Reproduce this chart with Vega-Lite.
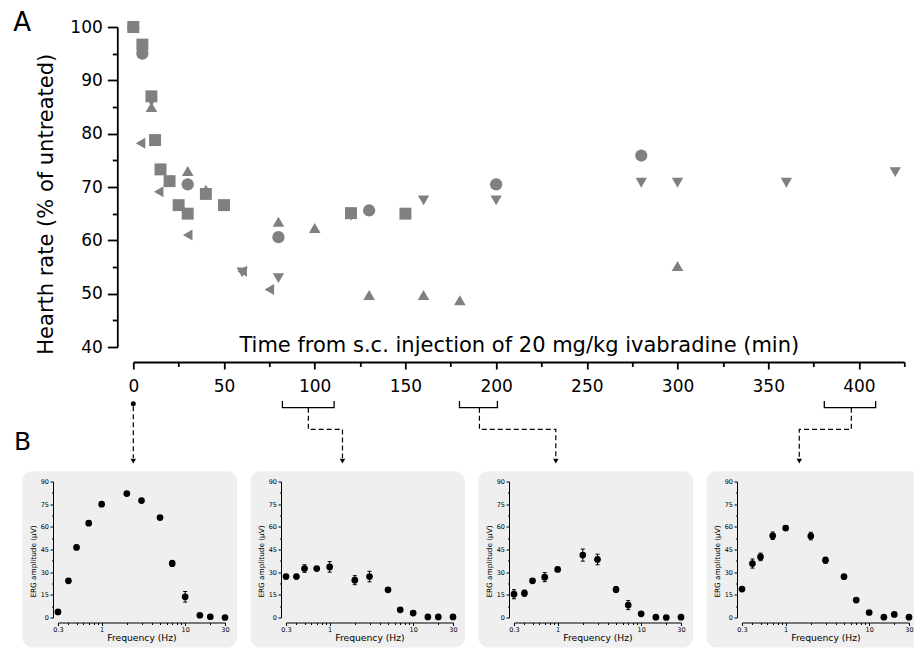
{
 "$schema": "https://vega.github.io/schema/vega-lite/v6.json",
 "padding": {"left": 13, "top": 9, "right": 0, "bottom": 0},
 "background": "white",
 "config": {
  "font": "DejaVu Sans",
  "view": {"stroke": null},
  "axis": {"labelFont": "DejaVu Sans", "titleFont": "DejaVu Sans", "labelColor": "black", "titleColor": "black", "domainColor": "black", "tickColor": "black", "grid": false, "labelFlush": false, "labelOverlap": false}
 },
 "datasets": {
  "hr": [
   {"s": "square", "t": 0, "hr": 100}, {"s": "square", "t": 5, "hr": 96.7}, {"s": "square", "t": 10, "hr": 87}, {"s": "square", "t": 12, "hr": 78.8}, {"s": "square", "t": 15, "hr": 73.3}, {"s": "square", "t": 20, "hr": 71.1}, {"s": "square", "t": 25, "hr": 66.6}, {"s": "square", "t": 30, "hr": 65.0}, {"s": "square", "t": 40, "hr": 68.7}, {"s": "square", "t": 50, "hr": 66.6}, {"s": "square", "t": 120, "hr": 65.1}, {"s": "square", "t": 150, "hr": 65.0},
   {"s": "circle", "t": 0, "hr": 100}, {"s": "circle", "t": 5, "hr": 95}, {"s": "circle", "t": 30, "hr": 70.5}, {"s": "circle", "t": 80, "hr": 60.6}, {"s": "circle", "t": 130, "hr": 65.6}, {"s": "circle", "t": 200, "hr": 70.5}, {"s": "circle", "t": 280, "hr": 75.9},
   {"s": "up", "t": 0, "hr": 100}, {"s": "up", "t": 10, "hr": 85}, {"s": "up", "t": 30, "hr": 73}, {"s": "up", "t": 40, "hr": 69.5}, {"s": "up", "t": 80, "hr": 63.5}, {"s": "up", "t": 100, "hr": 62.3}, {"s": "up", "t": 130, "hr": 49.75}, {"s": "up", "t": 160, "hr": 49.75}, {"s": "up", "t": 180, "hr": 48.75}, {"s": "up", "t": 300, "hr": 55.2},
   {"s": "down", "t": 0, "hr": 100}, {"s": "down", "t": 10, "hr": 86}, {"s": "down", "t": 60, "hr": 54}, {"s": "down", "t": 80, "hr": 52.9}, {"s": "down", "t": 120, "hr": 64.6}, {"s": "down", "t": 160, "hr": 67.5}, {"s": "down", "t": 200, "hr": 67.5}, {"s": "down", "t": 280, "hr": 70.8}, {"s": "down", "t": 300, "hr": 70.8}, {"s": "down", "t": 360, "hr": 70.8}, {"s": "down", "t": 420, "hr": 72.8},
   {"s": "left", "t": 0, "hr": 100}, {"s": "left", "t": 4, "hr": 78.2}, {"s": "left", "t": 14, "hr": 69.1}, {"s": "left", "t": 30, "hr": 61}, {"s": "left", "t": 60, "hr": 54.2}, {"s": "left", "t": 75, "hr": 50.8}
  ],
  "brk": [
   {"g": "b1", "o": 1, "t": 82.2, "v": 29.87}, {"g": "b1", "o": 2, "t": 82.2, "v": 28.62}, {"g": "b1", "o": 3, "t": 110.7, "v": 28.62}, {"g": "b1", "o": 4, "t": 110.7, "v": 29.87},
   {"g": "b2", "o": 1, "t": 179.8, "v": 29.87}, {"g": "b2", "o": 2, "t": 179.8, "v": 28.62}, {"g": "b2", "o": 3, "t": 200.7, "v": 28.62}, {"g": "b2", "o": 4, "t": 200.7, "v": 29.87},
   {"g": "b3", "o": 1, "t": 380.9, "v": 29.87}, {"g": "b3", "o": 2, "t": 380.9, "v": 28.62}, {"g": "b3", "o": 3, "t": 409.2, "v": 28.62}, {"g": "b3", "o": 4, "t": 409.2, "v": 29.87}
  ],
  "dash": [
   {"g": "d0", "o": 1, "t": 0, "v": 28.9}, {"g": "d0", "o": 2, "t": 0, "v": 19.2},
   {"g": "d1", "o": 1, "t": 96.5, "v": 28.62}, {"g": "d1", "o": 2, "t": 96.5, "v": 24.56}, {"g": "d1", "o": 3, "t": 115.3, "v": 24.56}, {"g": "d1", "o": 4, "t": 115.3, "v": 19.2},
   {"g": "d2", "o": 1, "t": 190.8, "v": 28.62}, {"g": "d2", "o": 2, "t": 190.8, "v": 24.56}, {"g": "d2", "o": 3, "t": 232.9, "v": 24.56}, {"g": "d2", "o": 4, "t": 232.9, "v": 19.2},
   {"g": "d3", "o": 1, "t": 395.8, "v": 28.62}, {"g": "d3", "o": 2, "t": 395.8, "v": 24.56}, {"g": "d3", "o": 3, "t": 367.1, "v": 24.56}, {"g": "d3", "o": 4, "t": 367.1, "v": 19.2}
  ],
  "arrow": [{"t": 0, "v": 18.6}, {"t": 115.3, "v": 18.6}, {"t": 232.9, "v": 18.6}, {"t": 367.1, "v": 18.6}],
  "erg": [
   {"p": 1, "f": 0.3, "a": 3.7}, {"p": 1, "f": 0.4, "a": 24.3}, {"p": 1, "f": 0.5, "a": 46.4}, {"p": 1, "f": 0.7, "a": 62.4}, {"p": 1, "f": 1, "a": 75}, {"p": 1, "f": 2, "a": 82}, {"p": 1, "f": 3, "a": 77.4}, {"p": 1, "f": 5, "a": 66.1}, {"p": 1, "f": 7, "a": 35.8, "lo": 33.8, "hi": 37.8}, {"p": 1, "f": 10, "a": 13.7, "lo": 10.2, "hi": 17.2}, {"p": 1, "f": 15, "a": 1.5}, {"p": 1, "f": 20, "a": 0.5}, {"p": 1, "f": 30, "a": 0},
   {"p": 2, "f": 0.3, "a": 27.1}, {"p": 2, "f": 0.4, "a": 27.1}, {"p": 2, "f": 0.5, "a": 32.4, "lo": 29.9, "hi": 34.9}, {"p": 2, "f": 0.7, "a": 32.4, "lo": 31.2, "hi": 33.6}, {"p": 2, "f": 1, "a": 33.5, "lo": 30, "hi": 37}, {"p": 2, "f": 2, "a": 24.7, "lo": 21.7, "hi": 27.7}, {"p": 2, "f": 3, "a": 27.1, "lo": 23.6, "hi": 30.6}, {"p": 2, "f": 5, "a": 18.3, "lo": 17.3, "hi": 19.3}, {"p": 2, "f": 7, "a": 5.1}, {"p": 2, "f": 10, "a": 2.9}, {"p": 2, "f": 15, "a": 0.4}, {"p": 2, "f": 20, "a": 0.4}, {"p": 2, "f": 30, "a": 0.4},
   {"p": 3, "f": 0.3, "a": 15.4, "lo": 12.4, "hi": 18.4}, {"p": 3, "f": 0.4, "a": 16.1, "lo": 14.1, "hi": 18.1}, {"p": 3, "f": 0.5, "a": 24.3, "lo": 23.3, "hi": 25.3}, {"p": 3, "f": 0.7, "a": 26.7, "lo": 23.7, "hi": 29.7}, {"p": 3, "f": 1, "a": 31.8}, {"p": 3, "f": 2, "a": 41.3, "lo": 37.3, "hi": 45.3}, {"p": 3, "f": 3, "a": 38.4, "lo": 34.9, "hi": 41.9}, {"p": 3, "f": 5, "a": 18.5, "lo": 16.5, "hi": 20.5}, {"p": 3, "f": 7, "a": 8.2, "lo": 5.2, "hi": 11.2}, {"p": 3, "f": 10, "a": 2.4}, {"p": 3, "f": 15, "a": 0.2}, {"p": 3, "f": 20, "a": 0}, {"p": 3, "f": 30, "a": 0.2},
   {"p": 4, "f": 0.3, "a": 18.8}, {"p": 4, "f": 0.4, "a": 35.7, "lo": 32.7, "hi": 38.7}, {"p": 4, "f": 0.5, "a": 40.1, "lo": 37.6, "hi": 42.6}, {"p": 4, "f": 0.7, "a": 54.1, "lo": 51.6, "hi": 56.6}, {"p": 4, "f": 1, "a": 59.2, "lo": 57.7, "hi": 60.7}, {"p": 4, "f": 2, "a": 53.9, "lo": 51.4, "hi": 56.4}, {"p": 4, "f": 3, "a": 37.9, "lo": 35.9, "hi": 39.9}, {"p": 4, "f": 5, "a": 27.0}, {"p": 4, "f": 7, "a": 11.5, "lo": 10.5, "hi": 12.5}, {"p": 4, "f": 10, "a": 3.3}, {"p": 4, "f": 15, "a": 0.2}, {"p": 4, "f": 20, "a": 2.0}, {"p": 4, "f": 30, "a": 0.2}
  ]
 },
 "concat": [
  {
   "concat": [
    {"width": 1, "height": 1, "data": {"values": []}, "mark": "point"},
    {
     "width": 771, "height": 320,
     "layer": [
      {"data": {"name": "brk"}, "mark": {"type": "line", "color": "black", "strokeWidth": 1.3, "clip": false},
       "encoding": {"x": {"field": "t", "type": "quantitative", "scale": {"domain": [0, 425], "nice": false, "zero": false}}, "y": {"field": "v", "type": "quantitative", "scale": {"domain": [40, 100], "nice": false, "zero": false}}, "detail": {"field": "g"}, "order": {"field": "o"}}},
      {"data": {"name": "dash"}, "mark": {"type": "line", "color": "black", "strokeWidth": 1.2, "strokeDash": [5, 3], "clip": false},
       "encoding": {"x": {"field": "t", "type": "quantitative", "scale": {"domain": [0, 425], "nice": false, "zero": false}}, "y": {"field": "v", "type": "quantitative", "scale": {"domain": [40, 100], "nice": false, "zero": false}}, "detail": {"field": "g"}, "order": {"field": "o"}}},
      {"data": {"name": "arrow"}, "mark": {"type": "point", "shape": "triangle-down", "filled": true, "color": "black", "size": 30, "opacity": 1, "clip": false},
       "encoding": {"x": {"field": "t", "type": "quantitative", "scale": {"domain": [0, 425], "nice": false, "zero": false}}, "y": {"field": "v", "type": "quantitative", "scale": {"domain": [40, 100], "nice": false, "zero": false}}}},
      {"data": {"values": [{"t": 0, "v": 29.37}]}, "mark": {"type": "point", "shape": "circle", "filled": true, "color": "black", "size": 25, "opacity": 1, "clip": false},
       "encoding": {"x": {"field": "t", "type": "quantitative", "scale": {"domain": [0, 425], "nice": false, "zero": false}}, "y": {"field": "v", "type": "quantitative", "scale": {"domain": [40, 100], "nice": false, "zero": false}}}},
      {"data": {"values": [{"t": -66.2, "v": 99.25, "label": "A"}]}, "mark": {"type": "text", "fontSize": 26, "font": "DejaVu Sans", "align": "left", "baseline": "alphabetic", "color": "black", "clip": false},
       "encoding": {"x": {"field": "t", "type": "quantitative", "scale": {"domain": [0, 425], "nice": false, "zero": false}}, "y": {"field": "v", "type": "quantitative", "scale": {"domain": [40, 100], "nice": false, "zero": false}}, "text": {"field": "label"}}},
      {"data": {"name": "hr"}, "mark": {"type": "point", "filled": true, "opacity": 1, "color": "#808080", "clip": false},
       "encoding": {
        "x": {"field": "t", "type": "quantitative", "scale": {"domain": [0, 425], "nice": false, "zero": false},
         "axis": {"values": [0, 25, 50, 75, 100, 125, 150, 175, 200, 225, 250, 275, 300, 325, 350, 375, 400, 425], "tickCount": 60, "labelExpr": "datum.value % 50 === 0 && datum.value < 425 ? datum.label : ''", "tickSize": {"condition": {"test": "datum.value % 50 === 0", "value": 7}, "value": 4.5}, "offset": 15, "title": "Time from s.c. injection of 20 mg/kg ivabradine (min)", "titleFontSize": 21, "titleFontWeight": "normal", "titleY": -10.7, "titleX": 385.5, "titleAlign": "center", "titleBaseline": "alphabetic", "labelFontSize": 17, "labelPadding": 9, "labelOverlap": false, "labelFlush": false, "domainWidth": 1.8, "tickWidth": 1.8}},
        "y": {"field": "hr", "type": "quantitative", "scale": {"domain": [40, 100], "nice": false, "zero": false},
         "axis": {"values": [40, 45, 50, 55, 60, 65, 70, 75, 80, 85, 90, 95, 100], "tickCount": 60, "labelExpr": "datum.value % 10 === 0 ? datum.label : ''", "tickSize": {"condition": {"test": "datum.value % 10 === 0", "value": 10}, "value": 5}, "offset": 16, "title": "Hearth rate (% of untreated)", "titleFontSize": 21, "titleFontWeight": "normal", "titleX": -65, "titleY": 176.7, "titleAngle": -90, "titleAlign": "center", "titleBaseline": "alphabetic", "labelFontSize": 17, "labelPadding": 5, "labelOverlap": false, "domainWidth": 1.8, "tickWidth": 1.8}},
        "shape": {"field": "s", "type": "nominal", "scale": {"domain": ["circle", "square", "up", "down", "left"], "range": ["circle", "square", "triangle-up", "triangle-down", "triangle-left"]}, "legend": null},
        "size": {"field": "s", "type": "ordinal", "scale": {"domain": ["circle", "square", "up", "down", "left"], "range": [150, 121, 210, 200, 180]}, "legend": null}
       }}
     ]
    }
   ],
   "columns": 2,
   "align": "none",
   "spacing": -46.7
  },
  {
   "concat": [
    {
     "width": 167, "height": 136,
     "layer": [
      {"data": {"values": [{}]}, "mark": {"type": "rect", "fill": "#efefef", "cornerRadius": 10, "clip": false},
       "encoding": {"x": {"datum": 0.1127, "type": "quantitative", "scale": {"type": "log", "domain": [0.3, 30], "nice": false}}, "x2": {"datum": 41.8}, "y": {"datum": 96.8, "type": "quantitative", "scale": {"domain": [0, 90], "nice": false, "zero": false}}, "y2": {"datum": -19.85}}},
      {"data": {"values": [{"label": "B"}]}, "mark": {"type": "text", "fontSize": 25, "font": "DejaVu Sans", "align": "left", "baseline": "alphabetic", "color": "black", "clip": false},
       "encoding": {"x": {"datum": 0.0893, "type": "quantitative", "scale": {"type": "log", "domain": [0.3, 30], "nice": false}}, "y": {"datum": 110.7, "type": "quantitative", "scale": {"domain": [0, 90], "nice": false, "zero": false}}, "text": {"field": "label"}}},
      {"data": {"name": "erg"}, "transform": [{"filter": "datum.p === 1 && isValid(datum.lo)"}], "mark": {"type": "rule", "color": "black", "strokeWidth": 1},
       "encoding": {"x": {"field": "f", "type": "quantitative", "scale": {"type": "log", "domain": [0.3, 30], "nice": false}}, "y": {"field": "lo", "type": "quantitative", "scale": {"domain": [0, 90], "nice": false, "zero": false}}, "y2": {"field": "hi"}}},
      {"data": {"name": "erg"}, "transform": [{"filter": "datum.p === 1 && isValid(datum.lo)"}], "mark": {"type": "tick", "orient": "horizontal", "size": 4, "thickness": 1, "color": "black", "opacity": 1},
       "encoding": {"x": {"field": "f", "type": "quantitative", "scale": {"type": "log", "domain": [0.3, 30], "nice": false}}, "y": {"field": "lo", "type": "quantitative", "scale": {"domain": [0, 90], "nice": false, "zero": false}}}},
      {"data": {"name": "erg"}, "transform": [{"filter": "datum.p === 1 && isValid(datum.hi)"}], "mark": {"type": "tick", "orient": "horizontal", "size": 4, "thickness": 1, "color": "black", "opacity": 1},
       "encoding": {"x": {"field": "f", "type": "quantitative", "scale": {"type": "log", "domain": [0.3, 30], "nice": false}}, "y": {"field": "hi", "type": "quantitative", "scale": {"domain": [0, 90], "nice": false, "zero": false}}}},
      {"data": {"name": "erg"}, "transform": [{"filter": "datum.p === 1"}], "mark": {"type": "point", "shape": "circle", "filled": true, "color": "black", "size": 45, "opacity": 1},
       "encoding": {
        "x": {"field": "f", "type": "quantitative", "scale": {"type": "log", "domain": [0.3, 30], "nice": false},
         "axis": {"values": [0.3, 0.4, 0.5, 0.6, 0.7, 0.8, 0.9, 1, 2, 3, 4, 5, 6, 7, 8, 9, 10, 20, 30], "tickCount": 60, "labelExpr": "datum.value === 0.3 ? '0.3' : datum.value === 1 ? '1' : datum.value === 10 ? '10' : datum.value === 30 ? '30' : ''", "tickSize": {"condition": {"test": "datum.value === 0.3 || datum.value === 1 || datum.value === 10 || datum.value === 30", "value": 3}, "value": 2}, "offset": 5, "title": "Frequency (Hz)", "titleFontSize": 9.2, "titleFontWeight": "normal", "titleY": 17.5, "titleBaseline": "alphabetic", "labelFontSize": 6.5, "labelPadding": 1, "labelOverlap": false, "labelFlush": false, "zindex": 1, "domainWidth": 1, "tickWidth": 1}},
        "y": {"field": "a", "type": "quantitative", "scale": {"domain": [0, 90], "nice": false, "zero": false},
         "axis": {"values": [0, 7.5, 15, 22.5, 30, 37.5, 45, 52.5, 60, 67.5, 75, 82.5, 90], "tickCount": 60, "labelExpr": "datum.value % 15 === 0 ? datum.label : ''", "tickSize": {"condition": {"test": "datum.value % 15 === 0", "value": 3}, "value": 1.5}, "offset": 5, "title": "ERG amplitude (µV)", "titleFontSize": 7.3, "titleFontWeight": "normal", "titleX": -18, "titleY": 79.5, "titleAngle": -90, "titleAlign": "center", "titleBaseline": "alphabetic", "labelFontSize": 6.5, "labelPadding": 1.5, "labelOverlap": false, "zindex": 1, "domainWidth": 1, "tickWidth": 1}}
       }}
     ]
    },
    {
     "width": 167, "height": 136,
     "layer": [
      {"data": {"values": [{}]}, "mark": {"type": "rect", "fill": "#efefef", "cornerRadius": 10, "clip": false},
       "encoding": {"x": {"datum": 0.1127, "type": "quantitative", "scale": {"type": "log", "domain": [0.3, 30], "nice": false}}, "x2": {"datum": 41.8}, "y": {"datum": 96.8, "type": "quantitative", "scale": {"domain": [0, 90], "nice": false, "zero": false}}, "y2": {"datum": -19.85}}},
      {"data": {"name": "erg"}, "transform": [{"filter": "datum.p === 2 && isValid(datum.lo)"}], "mark": {"type": "rule", "color": "black", "strokeWidth": 1},
       "encoding": {"x": {"field": "f", "type": "quantitative", "scale": {"type": "log", "domain": [0.3, 30], "nice": false}}, "y": {"field": "lo", "type": "quantitative", "scale": {"domain": [0, 90], "nice": false, "zero": false}}, "y2": {"field": "hi"}}},
      {"data": {"name": "erg"}, "transform": [{"filter": "datum.p === 2 && isValid(datum.lo)"}], "mark": {"type": "tick", "orient": "horizontal", "size": 4, "thickness": 1, "color": "black", "opacity": 1},
       "encoding": {"x": {"field": "f", "type": "quantitative", "scale": {"type": "log", "domain": [0.3, 30], "nice": false}}, "y": {"field": "lo", "type": "quantitative", "scale": {"domain": [0, 90], "nice": false, "zero": false}}}},
      {"data": {"name": "erg"}, "transform": [{"filter": "datum.p === 2 && isValid(datum.hi)"}], "mark": {"type": "tick", "orient": "horizontal", "size": 4, "thickness": 1, "color": "black", "opacity": 1},
       "encoding": {"x": {"field": "f", "type": "quantitative", "scale": {"type": "log", "domain": [0.3, 30], "nice": false}}, "y": {"field": "hi", "type": "quantitative", "scale": {"domain": [0, 90], "nice": false, "zero": false}}}},
      {"data": {"name": "erg"}, "transform": [{"filter": "datum.p === 2"}], "mark": {"type": "point", "shape": "circle", "filled": true, "color": "black", "size": 45, "opacity": 1},
       "encoding": {
        "x": {"field": "f", "type": "quantitative", "scale": {"type": "log", "domain": [0.3, 30], "nice": false},
         "axis": {"values": [0.3, 0.4, 0.5, 0.6, 0.7, 0.8, 0.9, 1, 2, 3, 4, 5, 6, 7, 8, 9, 10, 20, 30], "tickCount": 60, "labelExpr": "datum.value === 0.3 ? '0.3' : datum.value === 1 ? '1' : datum.value === 10 ? '10' : datum.value === 30 ? '30' : ''", "tickSize": {"condition": {"test": "datum.value === 0.3 || datum.value === 1 || datum.value === 10 || datum.value === 30", "value": 3}, "value": 2}, "offset": 5, "title": "Frequency (Hz)", "titleFontSize": 9.2, "titleFontWeight": "normal", "titleY": 17.5, "titleBaseline": "alphabetic", "labelFontSize": 6.5, "labelPadding": 1, "labelOverlap": false, "labelFlush": false, "zindex": 1, "domainWidth": 1, "tickWidth": 1}},
        "y": {"field": "a", "type": "quantitative", "scale": {"domain": [0, 90], "nice": false, "zero": false},
         "axis": {"values": [0, 7.5, 15, 22.5, 30, 37.5, 45, 52.5, 60, 67.5, 75, 82.5, 90], "tickCount": 60, "labelExpr": "datum.value % 15 === 0 ? datum.label : ''", "tickSize": {"condition": {"test": "datum.value % 15 === 0", "value": 3}, "value": 1.5}, "offset": 5, "title": "ERG amplitude (µV)", "titleFontSize": 7.3, "titleFontWeight": "normal", "titleX": -18, "titleY": 79.5, "titleAngle": -90, "titleAlign": "center", "titleBaseline": "alphabetic", "labelFontSize": 6.5, "labelPadding": 1.5, "labelOverlap": false, "zindex": 1, "domainWidth": 1, "tickWidth": 1}}
       }}
     ]
    },
    {
     "width": 167, "height": 136,
     "layer": [
      {"data": {"values": [{}]}, "mark": {"type": "rect", "fill": "#efefef", "cornerRadius": 10, "clip": false},
       "encoding": {"x": {"datum": 0.1127, "type": "quantitative", "scale": {"type": "log", "domain": [0.3, 30], "nice": false}}, "x2": {"datum": 41.8}, "y": {"datum": 96.8, "type": "quantitative", "scale": {"domain": [0, 90], "nice": false, "zero": false}}, "y2": {"datum": -19.85}}},
      {"data": {"name": "erg"}, "transform": [{"filter": "datum.p === 3 && isValid(datum.lo)"}], "mark": {"type": "rule", "color": "black", "strokeWidth": 1},
       "encoding": {"x": {"field": "f", "type": "quantitative", "scale": {"type": "log", "domain": [0.3, 30], "nice": false}}, "y": {"field": "lo", "type": "quantitative", "scale": {"domain": [0, 90], "nice": false, "zero": false}}, "y2": {"field": "hi"}}},
      {"data": {"name": "erg"}, "transform": [{"filter": "datum.p === 3 && isValid(datum.lo)"}], "mark": {"type": "tick", "orient": "horizontal", "size": 4, "thickness": 1, "color": "black", "opacity": 1},
       "encoding": {"x": {"field": "f", "type": "quantitative", "scale": {"type": "log", "domain": [0.3, 30], "nice": false}}, "y": {"field": "lo", "type": "quantitative", "scale": {"domain": [0, 90], "nice": false, "zero": false}}}},
      {"data": {"name": "erg"}, "transform": [{"filter": "datum.p === 3 && isValid(datum.hi)"}], "mark": {"type": "tick", "orient": "horizontal", "size": 4, "thickness": 1, "color": "black", "opacity": 1},
       "encoding": {"x": {"field": "f", "type": "quantitative", "scale": {"type": "log", "domain": [0.3, 30], "nice": false}}, "y": {"field": "hi", "type": "quantitative", "scale": {"domain": [0, 90], "nice": false, "zero": false}}}},
      {"data": {"name": "erg"}, "transform": [{"filter": "datum.p === 3"}], "mark": {"type": "point", "shape": "circle", "filled": true, "color": "black", "size": 45, "opacity": 1},
       "encoding": {
        "x": {"field": "f", "type": "quantitative", "scale": {"type": "log", "domain": [0.3, 30], "nice": false},
         "axis": {"values": [0.3, 0.4, 0.5, 0.6, 0.7, 0.8, 0.9, 1, 2, 3, 4, 5, 6, 7, 8, 9, 10, 20, 30], "tickCount": 60, "labelExpr": "datum.value === 0.3 ? '0.3' : datum.value === 1 ? '1' : datum.value === 10 ? '10' : datum.value === 30 ? '30' : ''", "tickSize": {"condition": {"test": "datum.value === 0.3 || datum.value === 1 || datum.value === 10 || datum.value === 30", "value": 3}, "value": 2}, "offset": 5, "title": "Frequency (Hz)", "titleFontSize": 9.2, "titleFontWeight": "normal", "titleY": 17.5, "titleBaseline": "alphabetic", "labelFontSize": 6.5, "labelPadding": 1, "labelOverlap": false, "labelFlush": false, "zindex": 1, "domainWidth": 1, "tickWidth": 1}},
        "y": {"field": "a", "type": "quantitative", "scale": {"domain": [0, 90], "nice": false, "zero": false},
         "axis": {"values": [0, 7.5, 15, 22.5, 30, 37.5, 45, 52.5, 60, 67.5, 75, 82.5, 90], "tickCount": 60, "labelExpr": "datum.value % 15 === 0 ? datum.label : ''", "tickSize": {"condition": {"test": "datum.value % 15 === 0", "value": 3}, "value": 1.5}, "offset": 5, "title": "ERG amplitude (µV)", "titleFontSize": 7.3, "titleFontWeight": "normal", "titleX": -18, "titleY": 79.5, "titleAngle": -90, "titleAlign": "center", "titleBaseline": "alphabetic", "labelFontSize": 6.5, "labelPadding": 1.5, "labelOverlap": false, "zindex": 1, "domainWidth": 1, "tickWidth": 1}}
       }}
     ]
    },
    {
     "width": 167, "height": 136,
     "layer": [
      {"data": {"values": [{}]}, "mark": {"type": "rect", "fill": "#efefef", "cornerRadius": 10, "clip": false},
       "encoding": {"x": {"datum": 0.1127, "type": "quantitative", "scale": {"type": "log", "domain": [0.3, 30], "nice": false}}, "x2": {"datum": 41.8}, "y": {"datum": 96.8, "type": "quantitative", "scale": {"domain": [0, 90], "nice": false, "zero": false}}, "y2": {"datum": -19.85}}},
      {"data": {"name": "erg"}, "transform": [{"filter": "datum.p === 4 && isValid(datum.lo)"}], "mark": {"type": "rule", "color": "black", "strokeWidth": 1},
       "encoding": {"x": {"field": "f", "type": "quantitative", "scale": {"type": "log", "domain": [0.3, 30], "nice": false}}, "y": {"field": "lo", "type": "quantitative", "scale": {"domain": [0, 90], "nice": false, "zero": false}}, "y2": {"field": "hi"}}},
      {"data": {"name": "erg"}, "transform": [{"filter": "datum.p === 4 && isValid(datum.lo)"}], "mark": {"type": "tick", "orient": "horizontal", "size": 4, "thickness": 1, "color": "black", "opacity": 1},
       "encoding": {"x": {"field": "f", "type": "quantitative", "scale": {"type": "log", "domain": [0.3, 30], "nice": false}}, "y": {"field": "lo", "type": "quantitative", "scale": {"domain": [0, 90], "nice": false, "zero": false}}}},
      {"data": {"name": "erg"}, "transform": [{"filter": "datum.p === 4 && isValid(datum.hi)"}], "mark": {"type": "tick", "orient": "horizontal", "size": 4, "thickness": 1, "color": "black", "opacity": 1},
       "encoding": {"x": {"field": "f", "type": "quantitative", "scale": {"type": "log", "domain": [0.3, 30], "nice": false}}, "y": {"field": "hi", "type": "quantitative", "scale": {"domain": [0, 90], "nice": false, "zero": false}}}},
      {"data": {"name": "erg"}, "transform": [{"filter": "datum.p === 4"}], "mark": {"type": "point", "shape": "circle", "filled": true, "color": "black", "size": 45, "opacity": 1},
       "encoding": {
        "x": {"field": "f", "type": "quantitative", "scale": {"type": "log", "domain": [0.3, 30], "nice": false},
         "axis": {"values": [0.3, 0.4, 0.5, 0.6, 0.7, 0.8, 0.9, 1, 2, 3, 4, 5, 6, 7, 8, 9, 10, 20, 30], "tickCount": 60, "labelExpr": "datum.value === 0.3 ? '0.3' : datum.value === 1 ? '1' : datum.value === 10 ? '10' : datum.value === 30 ? '30' : ''", "tickSize": {"condition": {"test": "datum.value === 0.3 || datum.value === 1 || datum.value === 10 || datum.value === 30", "value": 3}, "value": 2}, "offset": 5, "title": "Frequency (Hz)", "titleFontSize": 9.2, "titleFontWeight": "normal", "titleY": 17.5, "titleBaseline": "alphabetic", "labelFontSize": 6.5, "labelPadding": 1, "labelOverlap": false, "labelFlush": false, "zindex": 1, "domainWidth": 1, "tickWidth": 1}},
        "y": {"field": "a", "type": "quantitative", "scale": {"domain": [0, 90], "nice": false, "zero": false},
         "axis": {"values": [0, 7.5, 15, 22.5, 30, 37.5, 45, 52.5, 60, 67.5, 75, 82.5, 90], "tickCount": 60, "labelExpr": "datum.value % 15 === 0 ? datum.label : ''", "tickSize": {"condition": {"test": "datum.value % 15 === 0", "value": 3}, "value": 1.5}, "offset": 5, "title": "ERG amplitude (µV)", "titleFontSize": 7.3, "titleFontWeight": "normal", "titleX": -18, "titleY": 79.5, "titleAngle": -90, "titleAlign": "center", "titleBaseline": "alphabetic", "labelFontSize": 6.5, "labelPadding": 1.5, "labelOverlap": false, "zindex": 1, "domainWidth": 1, "tickWidth": 1}}
       }}
     ]
    }
   ],
   "columns": 4,
   "spacing": 12,
   "align": "each"
  }
 ],
 "columns": 1,
 "align": "none",
 "spacing": -34.5
}
